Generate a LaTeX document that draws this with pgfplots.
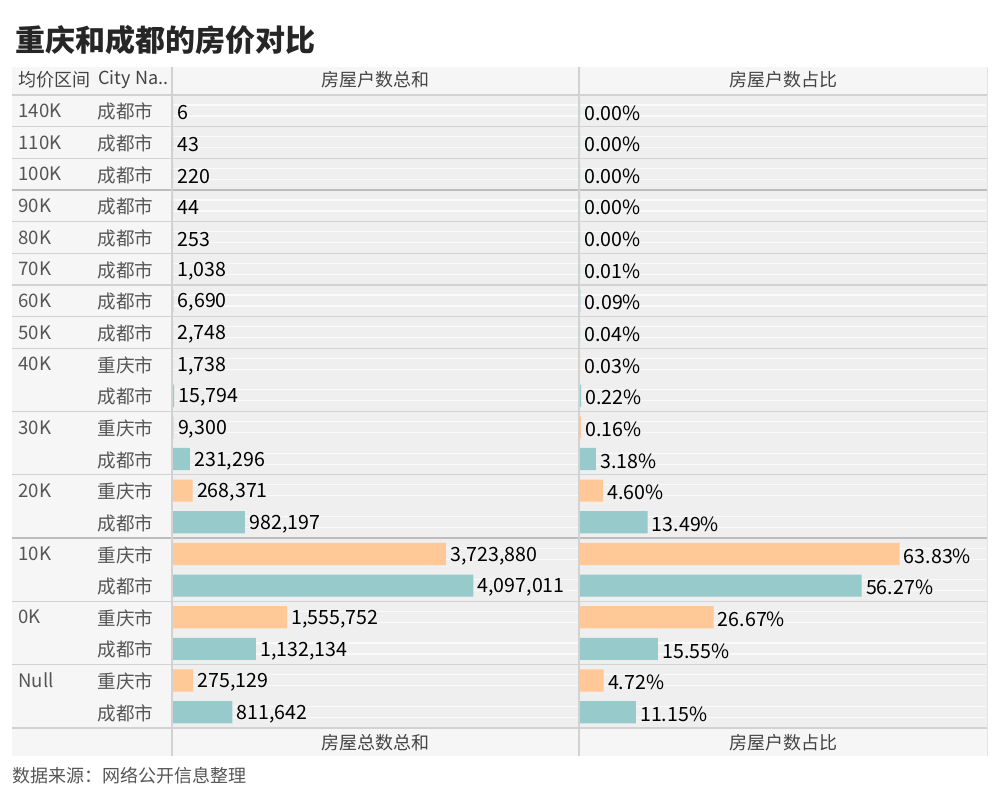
\documentclass[border=0pt]{standalone}
\usepackage{pgfplots}
\pgfplotsset{compat=1.18}
\usepackage{fontspec}
\setmainfont{Noto Sans CJK SC}
\definecolor{cq}{HTML}{FFC896}
\definecolor{cd}{HTML}{97CACB}
\definecolor{bgA}{HTML}{F6F6F6}
\definecolor{bgB}{HTML}{EFEFEF}
\definecolor{sep}{HTML}{D2D2D2}
\definecolor{sepD}{HTML}{BDBDBD}
\definecolor{lab}{HTML}{555555}
\definecolor{hdr}{HTML}{444444}

\pgfplotstableread{
y v lab
0 6 6
1 43 43
2 220 220
3 44 44
4 253 253
5 1038 1,038
6 6690 6,690
7 2748 2,748
9 15794 15,794
11 231296 231,296
13 982197 982,197
15 4097011 4,097,011
17 1132134 1,132,134
19 811642 811,642
}\cdA
\pgfplotstableread{
y v lab
8 1738 1,738
10 9300 9,300
12 268371 268,371
14 3723880 3,723,880
16 1555752 1,555,752
18 275129 275,129
}\cqA
\pgfplotstableread{
y v lab
0 0.00 0.00
1 0.00 0.00
2 0.00 0.00
3 0.00 0.00
4 0.00 0.00
5 0.01 0.01
6 0.09 0.09
7 0.04 0.04
9 0.22 0.22
11 3.18 3.18
13 13.49 13.49
15 56.27 56.27
17 15.55 15.55
19 11.15 11.15
}\cdB
\pgfplotstableread{
y v lab
8 0.03 0.03
10 0.16 0.16
12 4.60 4.60
14 63.83 63.83
16 26.67 26.67
18 4.72 4.72
}\cqB

\begin{document}
\begin{tikzpicture}
\begin{scope}[x=0.5pt,y=-0.5pt]
\path[use as bounding box] (0,0) rectangle (1000,800);
% table background
\fill[bgA] (12,67) rectangle (987,756);
\fill[bgB] (172,95) rectangle (987,728);
\foreach \i in {0,...,19}{
  \draw[white, line width=0.6pt, opacity=0.7] (173,{95+31.65*\i+10}) -- (986,{95+31.65*\i+10});
  \draw[white, line width=0.6pt, opacity=0.7] (173,{95+31.65*\i+21}) -- (986,{95+31.65*\i+21});
}
% separators
\foreach \i in {0,1,2,4,5,6,7,8,10,12,16,18,20}{
  \draw[sep, line width=0.6pt] (12,{95+31.65*\i}) -- (987,{95+31.65*\i});
}
\foreach \i in {3,14}{
  \draw[sepD, line width=1.1pt] (12,{95+31.65*\i}) -- (987,{95+31.65*\i});
}
\draw[sep, line width=0.6pt] (172,67) -- (172,756);
\draw[sep, line width=0.6pt] (579,67) -- (579,756);
\draw[sep!60, line width=0.5pt] (987,67) -- (987,756);
% title & texts
\node[anchor=west, font=\fontsize{15pt}{17pt}\selectfont\bfseries, text=black!85, inner sep=0pt] at (15,40) {重庆和成都的房价对比};
\node[anchor=west, font=\fontsize{9pt}{11pt}\selectfont, text=hdr, inner sep=0pt] at (18,80) {均价区间};
\node[anchor=west, font=\fontsize{9pt}{11pt}\selectfont, text=hdr, inner sep=0pt] at (98,80) {City Na..};
\node[font=\fontsize{9pt}{11pt}\selectfont, text=hdr] at (375.5,80) {房屋户数总和};
\node[font=\fontsize{9pt}{11pt}\selectfont, text=hdr] at (783,80) {房屋户数占比};
\node[font=\fontsize{9pt}{11pt}\selectfont, text=hdr] at (375.5,743) {房屋总数总和};
\node[font=\fontsize{9pt}{11pt}\selectfont, text=hdr] at (783,743) {房屋户数占比};
\node[anchor=west, font=\fontsize{9pt}{11pt}\selectfont, text=lab, inner sep=0pt] at (12,776) {数据来源：网络公开信息整理};
\end{scope}

\begin{axis}[
  at={(86.5pt,-47.5pt)}, anchor=north west,
  scale only axis, width=203pt, height=316.5pt,
  xmin=0, xmax=5.54e6, ymin=-0.5, ymax=19.5, y dir=reverse,
  xbar, bar width=0.7, bar shift=0pt,
  axis line style={draw=none}, xtick=\empty,
  ytick={0,...,19},
  yticklabels={成都市,成都市,成都市,成都市,成都市,成都市,成都市,成都市,重庆市,成都市,重庆市,成都市,重庆市,成都市,重庆市,成都市,重庆市,成都市,重庆市,成都市},
  major tick length=0pt,
  yticklabel style={anchor=west, xshift=-38pt, yshift=-0.5pt, font=\fontsize{9.3pt}{11pt}\selectfont, text=lab, inner sep=0pt},
  extra y ticks={0,1,2,3,4,5,6,7,8,10,12,14,16,18},
  extra y tick labels={140K,110K,100K,90K,80K,70K,60K,50K,40K,30K,20K,10K,0K,Null},
  extra y tick style={yticklabel style={xshift=-39.5pt, yshift=0.5pt}},
  point meta=explicit symbolic,
  nodes near coords,
  nodes near coords style={font=\fontsize{9.8pt}{11pt}\selectfont, text=black, anchor=west, inner sep=2pt, yshift=-1pt},
  clip=false,
]
\addplot[fill=cd, draw=none] table[x=v, y=y, meta=lab] {\cdA};
\addplot[fill=cq, draw=none] table[x=v, y=y, meta=lab] {\cqA};
\end{axis}

\begin{axis}[
  at={(290pt,-47.5pt)}, anchor=north west,
  scale only axis, width=203.5pt, height=316.5pt,
  xmin=0, xmax=81.3, ymin=-0.5, ymax=19.5, y dir=reverse,
  xbar, bar width=0.7, bar shift=0pt,
  axis line style={draw=none}, xtick=\empty, ytick=\empty,
  point meta=explicit symbolic,
  nodes near coords={\pgfplotspointmeta\%},
  nodes near coords style={font=\fontsize{9.8pt}{11pt}\selectfont, text=black, anchor=west, inner sep=2pt, yshift=-1pt},
  clip=false,
]
\addplot[fill=cd, draw=none] table[x=v, y=y, meta=lab] {\cdB};
\addplot[fill=cq, draw=none] table[x=v, y=y, meta=lab] {\cqB};
\end{axis}
\end{tikzpicture}
\end{document}
